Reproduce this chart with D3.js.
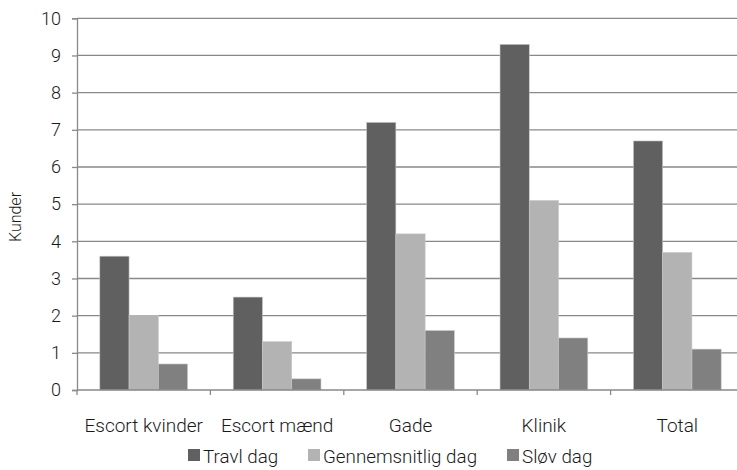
<!DOCTYPE html>
<html><head><meta charset="utf-8">
<script src="https://cdn.jsdelivr.net/npm/d3@7"></script>
<style>body{margin:0;background:#fff}text{font-family:Roboto,sans-serif;font-weight:300;fill:#1a1a1a}</style>
</head><body>
<svg id="c" width="737" height="470"></svg>
<script>
const categories = ["Escort kvinder","Escort mænd","Gade","Klinik","Total"];
const seriesNames = ["Travl dag","Gennemsnitlig dag","Sløv dag"];
const travl = [3.6,2.5,7.2,9.3,6.7];
const gennemsnitlig = [2.0,1.3,4.2,5.1,3.7];
const sloev = [0.7,0.3,1.6,1.4,1.1];
const yTicks = [0,1,2,3,4,5,6,7,8,9,10];
const colors = ["#606060","#b3b3b3","#808080"];
const series = [travl,gennemsnitlig,sloev];

(function(){
const svg = d3.select("#c");
const mLeft = 77, mRight = 744, mTop = 18.3, mBottom = 390;
const x = d3.scaleBand().domain(categories).range([mLeft,mRight]).padding(0);
const y = d3.scaleLinear().domain([0,10]).range([mBottom,mTop]);
const bw = x.bandwidth();
const barW = bw/(3+1.56);
const x1 = d3.scaleBand().domain(d3.range(3)).range([0,barW*3]);
const offset = (bw - barW*3)/2;

svg.append("g").selectAll("line").data(yTicks.filter(d=>d>0)).join("line")
  .attr("x1",mLeft).attr("x2",mRight).attr("y1",d=>y(d)).attr("y2",d=>y(d))
  .attr("stroke","#898989").attr("stroke-width",1.3);

series.forEach((vals,i)=>{
  svg.append("g").selectAll("rect").data(vals).join("rect")
    .attr("x",(d,j)=>x(categories[j])+offset+x1(i))
    .attr("width",x1.bandwidth())
    .attr("y",d=>y(d)).attr("height",d=>y(0)-y(d))
    .attr("fill",colors[i]).attr("stroke","#c8c8c8").attr("stroke-width",0.6);
});

const ya = svg.append("g").attr("transform",`translate(${mLeft},0)`)
  .call(d3.axisLeft(y).tickValues(yTicks).tickSize(5).tickPadding(11).tickFormat(d3.format("d")));
ya.select(".domain").attr("stroke","#898989").attr("stroke-width",1.3);
ya.selectAll(".tick line").attr("stroke","#898989").attr("stroke-width",1.3);
ya.selectAll("text").attr("font-size",18).attr("font-family","Roboto").attr("font-weight",300).attr("fill","#1a1a1a");

const xa = svg.append("g").attr("transform",`translate(0,${mBottom})`)
  .call(d3.axisBottom(x).tickSize(0).tickPadding(28.5));
xa.select(".domain").remove();
xa.selectAll("text").attr("font-size",19).attr("font-family","Roboto").attr("font-weight",300).attr("fill","#1a1a1a");
svg.append("line").attr("x1",mLeft).attr("x2",mRight).attr("y1",mBottom).attr("y2",mBottom)
  .attr("stroke","#898989").attr("stroke-width",1.3);
svg.append("g").selectAll("line").data(categories.map(c=>x(c)).concat([mRight])).join("line")
  .attr("x1",d=>d).attr("x2",d=>d).attr("y1",mBottom).attr("y2",mBottom+5)
  .attr("stroke","#898989").attr("stroke-width",1.3);

svg.append("text").attr("transform","translate(21,217) rotate(-90)")
  .attr("text-anchor","middle").attr("font-size",16).text("Kunder");

const legX = [188,308,507];
seriesNames.forEach((n,i)=>{
  svg.append("rect").attr("x",legX[i]).attr("y",449).attr("width",12).attr("height",12).attr("fill",colors[i]);
  svg.append("text").attr("x",legX[i]+15).attr("y",462.5).attr("font-size",18.8).text(n);
});
})();
</script>
</body></html>
